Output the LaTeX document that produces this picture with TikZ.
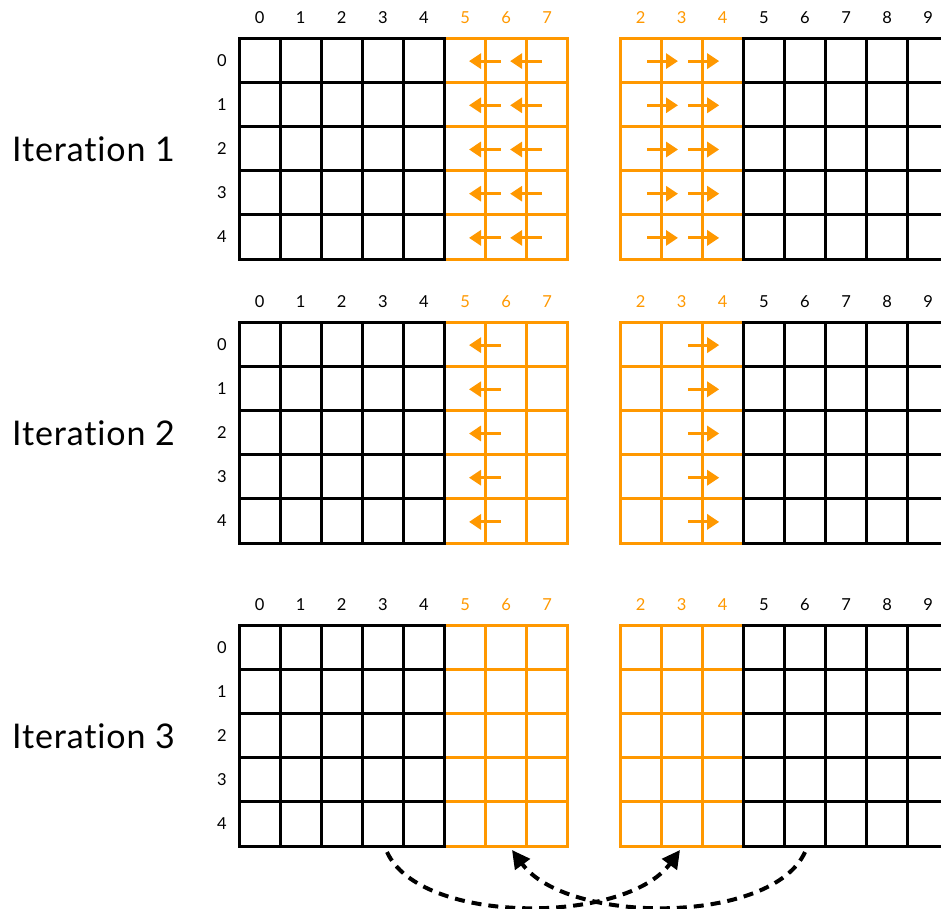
\documentclass[tikz,border=0pt]{standalone}
\usepackage{fontspec}
\setmainfont{Lato}[Ligatures=NoCommon]
\usetikzlibrary{arrows.meta}
\definecolor{orng}{RGB}{255,152,0}
\begin{document}
\begin{tikzpicture}[x=1pt,y=-1pt,
  blkline/.style={line width=3pt,black,line cap=rect},
  orgline/.style={line width=3pt,orng,line cap=rect},
  numlbl/.style={font=\fontsize{16.5}{16.5}\selectfont,inner sep=0pt,anchor=center},
  iterlbl/.style={font=\fontsize{34}{34}\selectfont\addfontfeature{LetterSpace=2.5},inner sep=0pt,anchor=west},
  smallarr/.style={orng,line width=3pt,-{Triangle[length=12pt,width=15pt]}},
  dasharr/.style={line width=4pt,dash pattern=on 10pt off 7pt,-{Triangle[length=18pt,width=18pt]}}
]
\clip (0,0) rectangle (941,908);
\useasboundingbox (0,0) rectangle (941,908);
\def\cw{41.1}
\def\ch{44.2}
\foreach \k/\top in {1/38,2/322,3/625}{
  \pgfmathsetmacro{\bot}{\top+5*\ch}
  % orange parts
  \foreach \r in {0,...,5}{
    \pgfmathsetmacro{\yy}{\top+\r*\ch}
    \draw[orgline] (444.5,\yy) -- (567.8,\yy);
    \draw[orgline] (620,\yy) -- (743.3,\yy);
  }
  \foreach \c in {1,2,3}{
    \pgfmathsetmacro{\xx}{444.5+\c*\cw}
    \draw[orgline] (\xx,\top) -- (\xx,\bot);
  }
  \foreach \c in {0,1,2}{
    \pgfmathsetmacro{\xx}{620+\c*\cw}
    \draw[orgline] (\xx,\top) -- (\xx,\bot);
  }
  % black parts
  \foreach \r in {0,...,5}{
    \pgfmathsetmacro{\yy}{\top+\r*\ch}
    \draw[blkline] (239,\yy) -- (444.5,\yy);
    \draw[blkline] (743.3,\yy) -- (948.8,\yy);
  }
  \foreach \c in {0,...,5}{
    \pgfmathsetmacro{\xx}{239+\c*\cw}
    \draw[blkline] (\xx,\top) -- (\xx,\bot);
    \pgfmathsetmacro{\xr}{743.3+\c*\cw}
    \draw[blkline] (\xr,\top) -- (\xr,\bot);
  }
  % column labels
  \pgfmathsetmacro{\ly}{\top-20}
  \foreach \c in {0,...,7}{
    \pgfmathsetmacro{\xx}{239+(\c+0.5)*\cw}
    \ifnum\c>4
      \node[numlbl,text=orng] (cl\k-\c) at (\xx,\ly) {\c};
    \else
      \node[numlbl] (cl\k-\c) at (\xx,\ly) {\c};
    \fi
  }
  \foreach \c in {2,...,9}{
    \pgfmathsetmacro{\xx}{620+(\c-1.5)*\cw}
    \ifnum\c<5
      \node[numlbl,text=orng] (cr\k-\c) at (\xx,\ly) {\c};
    \else
      \node[numlbl] (cr\k-\c) at (\xx,\ly) {\c};
    \fi
  }
  % row labels
  \foreach \r in {0,...,4}{
    \pgfmathsetmacro{\yy}{\top+(\r+0.5)*\ch}
    \node[numlbl] (rl\k-\r) at (222,\yy) {\r};
  }
  % iteration label
  \pgfmathsetmacro{\my}{\top+2.5*\ch+1}
  \node[iterlbl] (it\k) at (12,\my) {Iteration \k};
}
% arrows, iteration 1
\foreach \r in {0,...,4}{
  \pgfmathsetmacro{\yy}{38+(\r+0.5)*\ch+1}
  \draw[smallarr] (500.6,\yy) -- (469,\yy);
  \draw[smallarr] (541.7,\yy) -- (510.1,\yy);
  \draw[smallarr] (647,\yy) -- (678,\yy);
  \draw[smallarr] (688.2,\yy) -- (719.2,\yy);
}
% arrows, iteration 2
\foreach \r in {0,...,4}{
  \pgfmathsetmacro{\yy}{322+(\r+0.5)*\ch+1}
  \draw[smallarr] (500.6,\yy) -- (469,\yy);
  \draw[smallarr] (688.2,\yy) -- (719.2,\yy);
}
% dashed exchange arrows, iteration 3
\coordinate (s1) at (387,852);
\coordinate (e1) at (680,850);
\coordinate (s2) at (805,852);
\coordinate (e2) at (512,850);
\draw[dasharr] (s1) .. controls (420,925) and (625,925) .. (e1);
\draw[dasharr] (s2) .. controls (772,925) and (567,925) .. (e2);
\end{tikzpicture}
\end{document}
